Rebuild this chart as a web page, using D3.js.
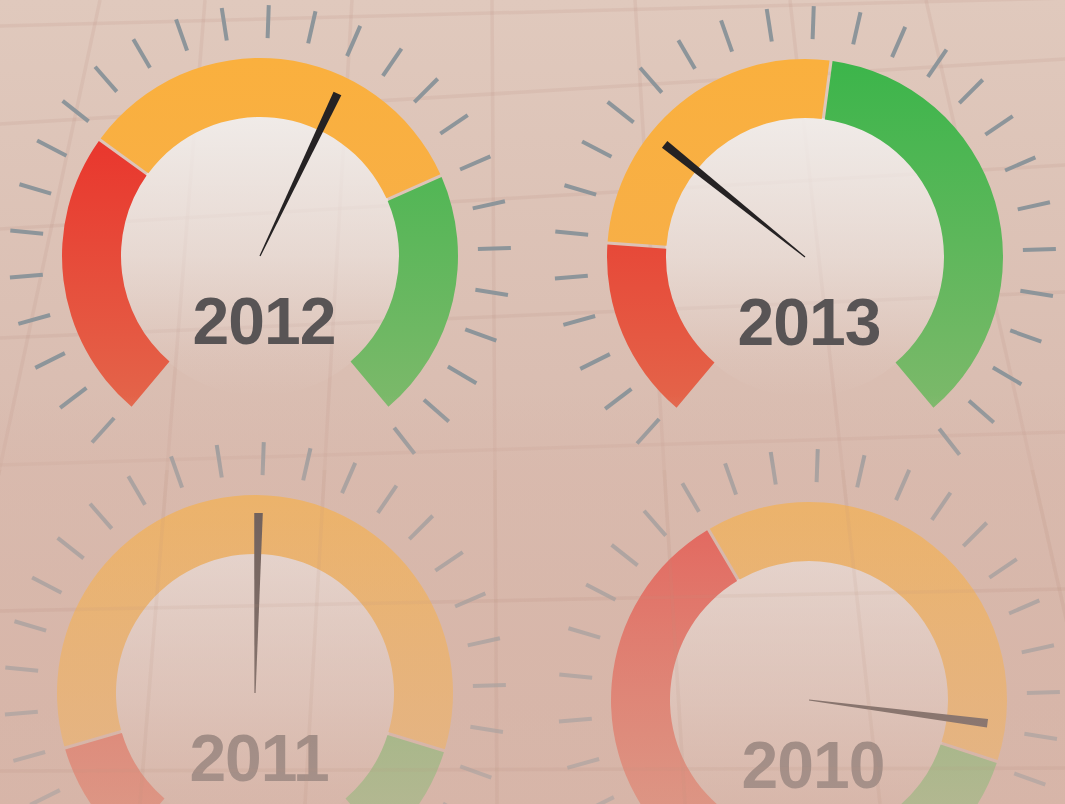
<!DOCTYPE html>
<html><head><meta charset="utf-8">
<script src="https://cdn.jsdelivr.net/npm/d3@7"></script>
<style>html,body{margin:0;padding:0;background:#dcc2b6;} svg{display:block}</style>
</head><body>
<svg id="chart" width="1065" height="804"></svg>
<script>
// ---- data (gauge values on a 0–100 scale) ----
const years       = ["2012", "2013", "2011", "2010"];
const redEnd      = [30.7, 19.3, 12.1, 39.1];   // end of red band
const orangeEnd   = [73.6, 52.7, 88.2, 88.6];   // end of orange band
const needleValue = [59.1, 31.7, 50.4, 84.8];   // needle reading
const scaleMax    = 100;
const tickCount   = 27;

// ---- layout ----
const W = 1065, H = 804;
const centers = [[260, 256], [805, 257], [255, 693], [809, 700]];
const R_IN = 139, R_OUT = 198, T_IN = 218, T_OUT = 251, NEEDLE = 180, TICK_ROT = 2;
const gridV = [[100, -72], [205, 140], [352, 305], [492, 497], [635, 685], [790, 880], [926, 1108]];
const gridH = [[26, -2], [124, 59], [229, 165], [338, 292], [465, 432], [611, 589], [771, 768]];

const svg = d3.select("#chart");
const defs = svg.append("defs");

const bg = defs.append("linearGradient").attr("id", "bg").attr("x1", 0).attr("y1", 0).attr("x2", 0).attr("y2", 1);
bg.append("stop").attr("offset", 0).attr("stop-color", "#e0c9bd");
bg.append("stop").attr("offset", 0.55).attr("stop-color", "#d9bcb0");
bg.append("stop").attr("offset", 1).attr("stop-color", "#d5b2a5");

const fade = defs.append("linearGradient").attr("id", "fade").attr("x1", 0).attr("y1", 0).attr("x2", 0).attr("y2", 1);
[[0, 0], [395 / H, 0], [470 / H, 0.4], [1, 0.62]].forEach(([o, a]) =>
  fade.append("stop").attr("offset", o).attr("stop-color", "#d8b7aa").attr("stop-opacity", a));

const disk = defs.append("linearGradient").attr("id", "disk").attr("x1", 0).attr("y1", 0).attr("x2", 0).attr("y2", 1);
[[0, 0.9], [0.5, 0.5], [0.85, 0.1], [1, 0]].forEach(([o, a]) =>
  disk.append("stop").attr("offset", o).attr("stop-color", "#f2efed").attr("stop-opacity", a));

defs.append("clipPath").attr("id", "lowclip").append("rect").attr("x", 0).attr("y", 470).attr("width", W).attr("height", H - 470);

const bandColors = [["#eb2824", "#e3684c"], ["#fab03e", "#f5ae4e"], ["#3bb54a", "#80b96c"]];

svg.append("rect").attr("width", W).attr("height", H).attr("fill", "url(#bg)");

function drawGrid(g, color, opacity) {
  g.selectAll("line.v").data(gridV).join("line").attr("class", "v")
    .attr("x1", d => d[0]).attr("y1", 0).attr("x2", d => d[1]).attr("y2", H);
  g.selectAll("line.h").data(gridH).join("line").attr("class", "h")
    .attr("x1", 0).attr("y1", d => d[0]).attr("x2", W).attr("y2", d => d[1]);
  g.selectAll("line").attr("stroke", color).attr("stroke-width", 3.5).attr("stroke-opacity", opacity);
}
drawGrid(svg.append("g"), "#b98f80", 0.16);

const angle = d3.scaleLinear().domain([0, scaleMax]).range([-140 * Math.PI / 180, 140 * Math.PI / 180]);
const arc = d3.arc().innerRadius(R_IN).outerRadius(R_OUT).padAngle(0.018).padRadius(170);
const tickAngles = d3.range(tickCount).map(k => angle(k * scaleMax / (tickCount - 1)) + TICK_ROT * Math.PI / 180);

years.forEach((yr, i) => {
  const [cx, cy] = centers[i];
  const g = svg.append("g").attr("transform", `translate(${cx},${cy})`);

  bandColors.forEach((c, k) => {
    const lg = defs.append("linearGradient").attr("id", `band${i}_${k}`)
      .attr("gradientUnits", "userSpaceOnUse").attr("x1", 0).attr("x2", 0).attr("y1", -200).attr("y2", 170);
    lg.append("stop").attr("offset", 0).attr("stop-color", c[0]);
    lg.append("stop").attr("offset", 1).attr("stop-color", c[1]);
  });

  g.append("circle").attr("r", R_IN + 1).attr("fill", "url(#disk)");

  g.selectAll("line.tick").data(tickAngles).join("line").attr("class", "tick")
    .attr("x1", a => T_IN * Math.sin(a)).attr("y1", a => -T_IN * Math.cos(a))
    .attr("x2", a => T_OUT * Math.sin(a)).attr("y2", a => -T_OUT * Math.cos(a))
    .attr("stroke", "#8d959a").attr("stroke-width", 4);

  const bands = [[0, redEnd[i]], [redEnd[i], orangeEnd[i]], [orangeEnd[i], scaleMax]];
  g.selectAll("path.band").data(bands).join("path").attr("class", "band")
    .attr("d", d => arc({ startAngle: angle(d[0]), endAngle: angle(d[1]) }))
    .attr("fill", (d, k) => `url(#band${i}_${k})`);

  g.append("text").attr("x", 4).attr("y", 88).attr("text-anchor", "middle")
    .attr("font-family", "'Liberation Sans', Arial, sans-serif").attr("font-weight", "bold")
    .attr("font-size", 66).attr("letter-spacing", -1).attr("fill", "#585455").text(yr);

  const deg = angle(needleValue[i]) * 180 / Math.PI;
  g.append("path")
    .attr("d", `M-0.6,0 L0.6,0 L4.3,${-NEEDLE} L-4.3,${-NEEDLE} Z`)
    .attr("transform", `rotate(${deg})`).attr("fill", "#252223");
});

svg.append("rect").attr("width", W).attr("height", H).attr("fill", "url(#fade)");
drawGrid(svg.append("g").attr("clip-path", "url(#lowclip)"), "#b98f80", 0.1);
</script>
</body></html>
